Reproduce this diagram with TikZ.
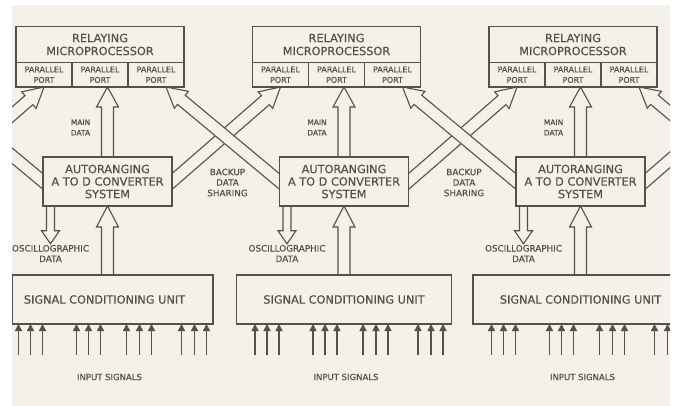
\documentclass[tikz,border=0pt]{standalone}
\usepackage{fontspec}
\setmainfont{DejaVu Sans}[FakeBold=0.5]
\usetikzlibrary{calc,positioning,arrows.meta}
\definecolor{paper}{HTML}{F4F1EA}
\definecolor{ink}{HTML}{55504A}
\pgfdeclarelayer{front}
\pgfsetlayers{main,front}
% hollow block arrow: start, end, half shaft, half head, head length
\newcommand{\hollowarrow}[5]{%
  \path[hollow] let \p1=(#1), \p2=(#2),
      \n1={atan2(\y2-\y1,\x2-\x1)}, \n2={veclen(\x2-\x1,\y2-\y1)} in
    [shift={(\p1)}, rotate=\n1]
    (-12pt,-#3) -- (\n2-#5,-#3) -- (\n2-#5,-#4) -- (\n2,0pt)
    -- (\n2-#5,#4) -- (\n2-#5,#3) -- (-12pt,#3) -- cycle;}
\tikzset{
  box/.style={draw=ink, line width=1.1pt, fill=paper, outer sep=0pt, inner sep=0pt, text=ink},
  titlebox/.style={box, align=center, minimum width=168pt, minimum height=36pt, font=\fontsize{11.3}{13}\selectfont},
  portbox/.style={box, align=center, minimum width=56pt, minimum height=24.5pt, font=\fontsize{8}{10.5}\selectfont},
  atdbox/.style={box, align=center, minimum width=129pt, minimum height=49pt, font=\fontsize{11.3}{12.5}\selectfont},
  scubox/.style={box, minimum width=215pt, minimum height=49pt, font=\fontsize{11.3}{13}\selectfont},
  lbl/.style={text=ink, align=center, inner sep=1pt, font=\fontsize{8.8}{10.5}\selectfont},
  smalllbl/.style={lbl, font=\fontsize{7.5}{10.5}\selectfont},
  hollow/.style={draw=ink, fill=paper, line width=1.1pt, line join=miter},
  sig/.style={draw=ink, line width=1.5pt, -{Triangle[length=7pt,width=7pt]}}
}
\begin{document}
\begin{tikzpicture}[x=1pt, y=-1pt]
  \useasboundingbox (0,0) rectangle (677,406);

  % boxes, on top of the arrows
  \begin{pgfonlayer}{front}
    \clip (12,5) rectangle (670,406);
    % unit 1
    \node[titlebox] (title1) at (100,44.5) {RELAYING\\MICROPROCESSOR};
    \node[portbox, below=0pt of title1] (port1b) {PARALLEL\\PORT};
    \node[portbox, left=0pt of port1b] (port1a) {PARALLEL\\PORT};
    \node[portbox, right=0pt of port1b] (port1c) {PARALLEL\\PORT};
    \node[atdbox] (atd1) at (107.5,181.5) {AUTORANGING\\A TO D CONVERTER\\SYSTEM};
    \node[scubox, minimum width=201pt] (scu1) at (112.5,299.5) {\hspace*{-16pt}SIGNAL CONDITIONING UNIT};
    % unit 2
    \node[titlebox] (title2) at (336.5,44.5) {RELAYING\\MICROPROCESSOR};
    \node[portbox, below=0pt of title2] (port2b) {PARALLEL\\PORT};
    \node[portbox, left=0pt of port2b] (port2a) {PARALLEL\\PORT};
    \node[portbox, right=0pt of port2b] (port2c) {PARALLEL\\PORT};
    \node[atdbox] (atd2) at (344,181.5) {AUTORANGING\\A TO D CONVERTER\\SYSTEM};
    \node[scubox] (scu2) at (344,299.5) {SIGNAL CONDITIONING UNIT};
    % unit 3
    \node[titlebox] (title3) at (573,44.5) {RELAYING\\MICROPROCESSOR};
    \node[portbox, below=0pt of title3] (port3b) {PARALLEL\\PORT};
    \node[portbox, left=0pt of port3b] (port3a) {PARALLEL\\PORT};
    \node[portbox, right=0pt of port3b] (port3c) {PARALLEL\\PORT};
    \node[atdbox] (atd3) at (580.5,181.5) {AUTORANGING\\A TO D CONVERTER\\SYSTEM};
    \node[scubox] (scu3) at (580.5,299.5) {SIGNAL CONDITIONING UNIT};
  \end{pgfonlayer}

  \fill[white] (0,0) rectangle (677,406);
  \fill[paper] (12,5) rectangle (670,406);
  \clip (12,5) rectangle (670,406);

  % neighbours outside the picture
  \coordinate (atd0) at (-64.5,181.5);
  \coordinate (tip0) at (-70.5,87);
  \coordinate (atd4) at (752.5,181.5);
  \coordinate (tip4) at (753.5,87);

  % labels
  \node[smalllbl] (main1) at (80.5,127.5) {MAIN\\DATA};
  \node[smalllbl] (main2) at (317,127.5) {MAIN\\DATA};
  \node[smalllbl] (main3) at (553.5,127.5) {MAIN\\DATA};
  \node[lbl] (osc1) at (50.5,253.5) {OSCILLOGRAPHIC\\DATA};
  \node[lbl] (osc2) at (287,253.5) {OSCILLOGRAPHIC\\DATA};
  \node[lbl] (osc3) at (523.5,253.5) {OSCILLOGRAPHIC\\DATA};
  \node[lbl] (backup1) at (227.5,182.5) {BACKUP\\DATA\\SHARING};
  \node[lbl] (backup2) at (464,182.5) {BACKUP\\DATA\\SHARING};
  \node[lbl, font=\fontsize{8.5}{10}\selectfont] (input1) at (109.5,377) {INPUT SIGNALS};
  \node[lbl, font=\fontsize{8.5}{10}\selectfont] (input2) at (346,377) {INPUT SIGNALS};
  \node[lbl, font=\fontsize{8.5}{10}\selectfont] (input3) at (582.5,377) {INPUT SIGNALS};

  % main data, converter input and oscillographic data
  \hollowarrow{atd1.north}{atd1.north |- port1b.south}{6pt}{11pt}{20pt}
  \hollowarrow{atd2.north}{atd2.north |- port2b.south}{6pt}{11pt}{20pt}
  \hollowarrow{atd3.north}{atd3.north |- port3b.south}{6pt}{11pt}{20pt}
  \hollowarrow{atd1.south |- scu1.north}{atd1.south}{6pt}{11pt}{21pt}
  \hollowarrow{atd2.south |- scu2.north}{atd2.south}{6pt}{11pt}{21pt}
  \hollowarrow{atd3.south |- scu3.north}{atd3.south}{6pt}{11pt}{21pt}
  \hollowarrow{osc1.north |- atd1.south}{osc1.north}{4pt}{9pt}{13pt}
  \hollowarrow{osc2.north |- atd2.south}{osc2.north}{4pt}{9pt}{13pt}
  \hollowarrow{osc3.north |- atd3.south}{osc3.north}{4pt}{9pt}{13pt}

  % backup data sharing
  \hollowarrow{atd0}{port1a.south}{6pt}{11pt}{20pt}
  \hollowarrow{atd1.east}{port2a.south}{6pt}{11pt}{20pt}
  \hollowarrow{atd2.east}{port3a.south}{6pt}{11pt}{20pt}
  \hollowarrow{atd3.east}{tip4}{6pt}{11pt}{20pt}
  \hollowarrow{atd1.west}{tip0}{6pt}{11pt}{20pt}
  \hollowarrow{atd2.west}{[xshift=10pt]port1c.south}{6pt}{11pt}{20pt}
  \hollowarrow{atd3.west}{[xshift=10pt]port2c.south}{6pt}{11pt}{20pt}
  \hollowarrow{atd4}{[xshift=10pt]port3c.south}{6pt}{11pt}{20pt}

  % input signals
  \foreach \u in {1,2,3}
    \foreach \dx in {-89,-77,-65,-31,-19,-7,19,32,44,74,87,99}
      \draw[sig] ($(atd\u.south |- scu\u.south)+(\dx,31)$) -- ++(0,-31);
\end{tikzpicture}
\end{document}
